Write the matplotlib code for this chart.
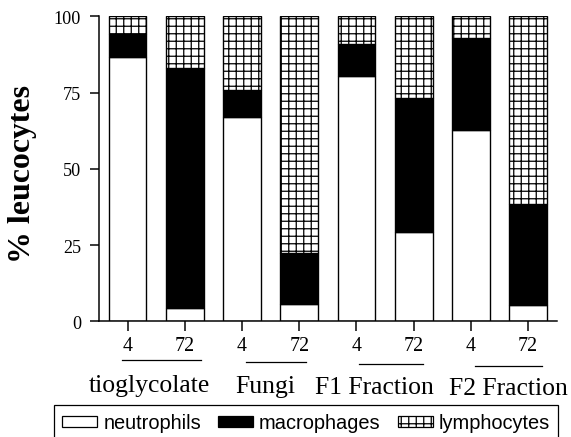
import matplotlib
matplotlib.use("Agg")
import matplotlib.pyplot as plt
from matplotlib.patches import Patch
from matplotlib.lines import Line2D
from matplotlib.transforms import blended_transform_factory

# Percentages of each leucocyte type per treatment and time point (h)
time_labels = ["4", "72", "4", "72", "4", "72", "4", "72"]
groups = ["tioglycolate", "Fungi", "F1 Fraction", "F2 Fraction"]
neutrophils = [86.6, 4.3, 67.0, 5.6, 80.3, 29.2, 62.6, 5.3]
macrophages = [7.7, 78.8, 8.8, 16.8, 10.6, 44.0, 30.3, 33.2]
lymphocytes = [5.7, 16.9, 24.2, 77.6, 9.1, 26.8, 7.1, 61.5]

DPI = 90
plt.rcParams["hatch.linewidth"] = 1.0
serif = ["Liberation Serif", "DejaVu Serif"]
sans = ["Liberation Sans", "DejaVu Sans"]

fig = plt.figure(figsize=(571 / DPI, 438 / DPI), dpi=DPI)
ax = fig.add_axes([0.1734, 0.2642, 0.8016, 0.6963])

x = list(range(len(time_labels)))
bar_kw = dict(width=0.66, edgecolor="black", linewidth=1.1)
bottom2 = [a + b for a, b in zip(neutrophils, macrophages)]
ax.bar(x, neutrophils, color="white", label="neutrophils", **bar_kw)
ax.bar(x, macrophages, bottom=neutrophils, color="black", label="macrophages", **bar_kw)
ax.bar(x, lymphocytes, bottom=bottom2, color="white", hatch="++",
       label="lymphocytes", **bar_kw)

ax.set_xlim(-0.5, 7.5)
ax.set_ylim(0, 100)
ax.set_yticks([0, 25, 50, 75, 100])
ax.set_xticks(x)
ax.set_xticklabels(time_labels, family=serif, fontsize=16)
for lab in ax.get_yticklabels():
    lab.set_family(serif)
    lab.set_fontsize(14.5)

for side in ("top", "right"):
    ax.spines[side].set_visible(False)
for side in ("left", "bottom"):
    ax.spines[side].set_linewidth(1.2)
ax.tick_params(axis="y", length=7.2, width=1.2, pad=7)
ax.tick_params(axis="x", length=8, width=1.2, pad=4)

ax.set_ylabel("% leucocytes", family=serif, fontsize=25.5, fontweight="bold")
ax.yaxis.set_label_coords(-0.135, 0.486)

# Group captions with an underline beneath each pair of time points
trans = blended_transform_factory(ax.transData, fig.transFigure)
line_spans = [(-0.10, 1.28), (2.07, 3.12), (4.05, 5.17), (6.08, 7.25)]
line_y = [361, 362.5, 364.5, 366.5]
label_x = [0.38, 2.40, 4.32, 6.65]
label_y = [392, 393, 394, 395]
for (x0, x1), ly, gx, gy, name in zip(line_spans, line_y, label_x, label_y, groups):
    fig.add_artist(Line2D([x0, x1], [1 - ly / 438] * 2, transform=trans,
                          color="black", linewidth=1.0))
    fig.text(gx, 1 - gy / 438, name, transform=trans, ha="center", va="baseline",
             family=serif, fontsize=20.5)

handles = [
    Patch(facecolor="white", edgecolor="black", linewidth=1.0, label="neutrophils"),
    Patch(facecolor="black", edgecolor="black", linewidth=1.0, label="macrophages"),
    Patch(facecolor="white", edgecolor="black", linewidth=1.0, hatch="++",
          label="lymphocytes"),
]
leg = fig.legend(handles=handles, loc="upper left", ncol=3,
                 bbox_to_anchor=(54 / 571, 1 - 406 / 438),
                 prop={"family": sans, "size": 16}, frameon=True, fancybox=False,
                 edgecolor="black", framealpha=1, borderpad=0.42,
                 handlelength=1.75, handleheight=0.5, handletextpad=0.3,
                 borderaxespad=0, columnspacing=0.85)
leg.get_frame().set_linewidth(1.0)

fig.savefig("out.png", dpi=DPI)
